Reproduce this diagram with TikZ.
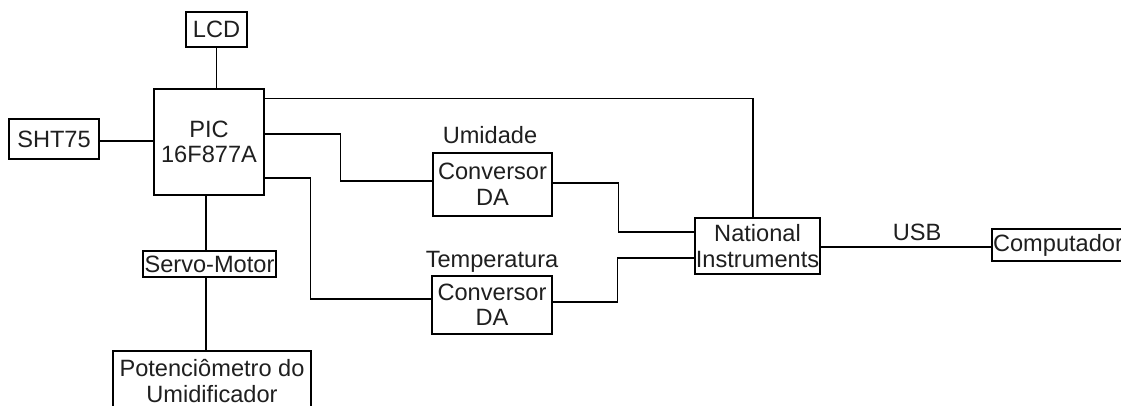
\documentclass[tikz,border=0pt]{standalone}
\usepackage{fontspec}
\setmainfont{Liberation Sans}
\begin{document}
\begin{tikzpicture}[x=1pt,y=-1pt,
  blk/.style={draw=black,line width=1.2pt,fill=white,inner sep=0pt,align=center,
    text=black!88,font=\fontsize{23.6}{25.5}\selectfont},
  lbl/.style={inner sep=0pt,text=black!88,font=\fontsize{23.6}{25.5}\selectfont},
  wire/.style={draw=black,line width=1.2pt}]
\fill[white] (0,0) rectangle (1121,405);
\useasboundingbox (0,0) rectangle (1121,405);
\clip (0,0) rectangle (1121,405);

% blocks
\node[blk,minimum width=61pt,minimum height=35pt] (lcd) at (216.5,29.5) {LCD};
\node[blk,minimum width=110pt,minimum height=106pt] (pic) at (209,142) {PIC\\16F877A};
\node[blk,minimum width=90pt,minimum height=40pt] (sht) at (54,139) {SHT75};
\node[blk,minimum width=119pt,minimum height=63pt] (conva) at (492.5,184.5) {Conversor\\DA};
\node[blk,minimum width=120pt,minimum height=58pt] (convb) at (492,305) {Conversor\\DA};
\node[blk,minimum width=125pt,minimum height=56pt] (ni) at (757.5,246) {National\\Instruments};
\node[blk,minimum width=132pt,minimum height=32pt] (comp) at (1058,245) {Computador};
\node[blk,minimum width=133pt,minimum height=26pt] (servo) at (209.5,264) {Servo-Motor};
\node[blk,minimum width=198pt,minimum height=60pt] (pot) at (212,381) {Potenciômetro do\\Umidificador};

% labels
\node[lbl,anchor=base] (umid) at (490,143) {Umidade};
\node[lbl,anchor=base] (temp) at (492,267) {Temperatura};
\node[lbl,anchor=base] (usb) at (917,240) {USB};

% connections
\draw[wire] (lcd.south) -- (lcd.south |- pic.north);
\draw[wire] ([yshift=-2pt]sht.east) -- ([yshift=-2pt]sht.east -| pic.west);
\draw[wire] ([yshift=-10pt]pic.north east) -| ([xshift=-4.5pt]ni.north);
\draw[wire] ([yshift=8pt]pic.east) -- ++(76,0) |- ([yshift=3.5pt]conva.west);
\draw[wire] ([yshift=-36pt]pic.east) -- ++(46,0) |- ([yshift=6pt]convb.west);
\draw[wire] ([yshift=1.5pt]conva.east) -- ++(66,0) |- ([yshift=14pt]ni.west);
\draw[wire] ([yshift=3pt]convb.east) -- ++(65,0) |- ([yshift=-12pt]ni.west);
\draw[wire] ([yshift=-1pt]ni.east) -- ([yshift=-1pt]ni.east -| comp.west);
\draw[wire] ([xshift=-3pt]pic.south) -- ([xshift=-3pt]pic.south |- servo.north);
\draw[wire] ([xshift=-3.5pt]servo.south) -- ([xshift=-3.5pt]servo.south |- pot.north);
\end{tikzpicture}
\end{document}
